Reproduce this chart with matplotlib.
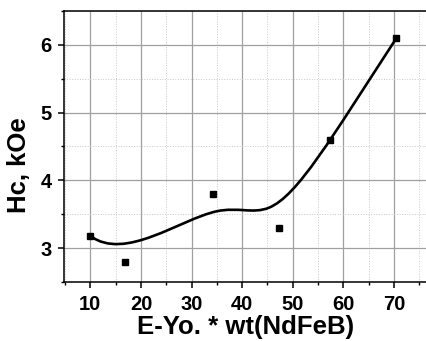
import numpy as np
import matplotlib.pyplot as plt
from matplotlib.path import Path
from matplotlib.patches import PathPatch
from matplotlib.ticker import MultipleLocator

plt.rcParams['font.family'] = ['Liberation Sans', 'DejaVu Sans']
plt.rcParams['font.weight'] = 'bold'

# data
wt = [10.0, 16.8, 34.3, 47.3, 57.4, 70.5]
hc = [3.18, 2.80, 3.80, 3.30, 4.60, 6.10]


def blossom(P, t, us, k):
    # de Boor with a different parameter at each level (polar form)
    d = [P[j].copy() for j in range(k - 3, k + 1)]
    for r, u in enumerate(us, start=1):
        for j in range(3, r - 1, -1):
            i = j + k - 3
            a = (u - t[i]) / (t[i + 4 - r] - t[i])
            d[j] = (1 - a) * d[j - 1] + a * d[j]
    return d[3]


# B-spline connecting line with the data points as control points
P = np.column_stack([wt, hc])
par = np.concatenate([[0], np.cumsum(np.diff(wt))])
k1 = par[1:4].mean()
k2 = par[2:5].mean()
end = par[-1]
knots = [0, 0, 0, 0, k1, k2, end, end, end, end]
verts = [P[0]]
codes = [Path.MOVETO]
for k, (a, b) in zip([3, 4, 5], [(0, k1), (k1, k2), (k2, end)]):
    for us in [(a, a, b), (a, b, b), (b, b, b)]:
        verts.append(blossom(P, knots, us, k))
        codes.append(Path.CURVE4)

fig = plt.figure(figsize=(4.27, 3.41), dpi=100)
ax = fig.add_axes([0.150, 0.173, 0.852, 0.795])

ax.add_patch(PathPatch(Path(verts, codes), facecolor='none', edgecolor='black', lw=1.9, zorder=3))
ax.plot(wt, hc, 's', color='black', ms=4, zorder=4)

ax.set_xlim(4.8, 76.7)
ax.set_ylim(2.5, 6.5)
ax.xaxis.set_major_locator(MultipleLocator(10))
ax.xaxis.set_minor_locator(MultipleLocator(5))
ax.yaxis.set_major_locator(MultipleLocator(1))
ax.yaxis.set_minor_locator(MultipleLocator(0.5))

ax.grid(which='major', color='#a0a0a0', lw=0.9, ls='-')
ax.grid(which='minor', color='#c8c8c8', lw=0.7, ls=':')
ax.set_axisbelow(True)

ax.spines['right'].set_visible(False)
for s in ['left', 'bottom', 'top']:
    ax.spines[s].set_linewidth(1.1)

ax.tick_params(which='major', direction='out', length=4, width=1.1, labelsize=14.5, pad=5)
ax.tick_params(which='minor', direction='out', length=2.5, width=1.0)

ax.set_xlabel('E-Yo. * wt(NdFeB)', fontsize=18.5, fontweight='bold', labelpad=1)
ax.set_ylabel('Hc, kOe', fontsize=18.5, fontweight='bold')
ax.yaxis.set_label_coords(-0.09, 0.432)

fig.savefig('out.png', dpi=100)
